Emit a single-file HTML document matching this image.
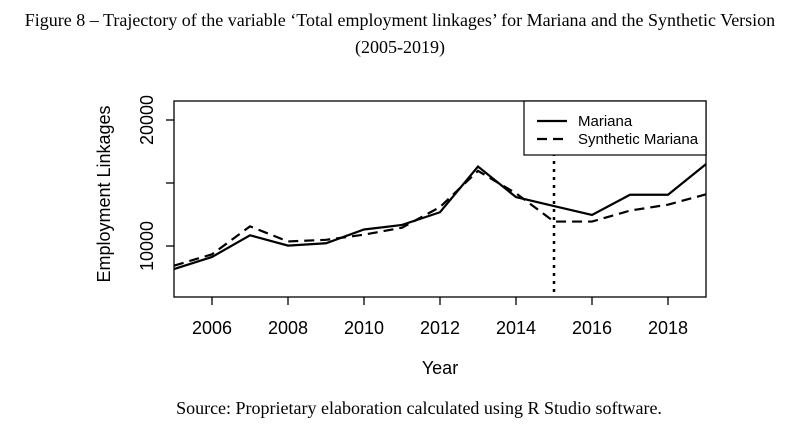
<!DOCTYPE html>
<html><head><meta charset="utf-8"><style>
body{margin:0;background:#fff;width:793px;height:427px;overflow:hidden}
svg{display:block}
.t{font-family:"Liberation Serif",serif;font-size:18px;fill:#000}
.s{font-family:"Liberation Sans",sans-serif;font-size:18px;fill:#000}
.lg{font-family:"Liberation Sans",sans-serif;font-size:15px;fill:#000}
</style></head><body>
<svg id="c" width="793" height="427">
<text class="t" x="400" y="26" text-anchor="middle">Figure 8 – Trajectory of the variable ‘Total employment linkages’ for Mariana and the Synthetic Version</text>
<text class="t" x="400" y="53" text-anchor="middle">(2005-2019)</text>
<text class="t" x="419" y="414" text-anchor="middle">Source: Proprietary elaboration calculated using R Studio software.</text>
<text class="s" x="440" y="374" text-anchor="middle">Year</text>
<text class="s" transform="translate(110,194) rotate(-90)" text-anchor="middle">Employment Linkages</text>
</svg>
<script>
const years=[2005,2006,2007,2008,2009,2010,2011,2012,2013,2014,2015,2016,2017,2018,2019];
const mariana=[8170,9130,10850,10030,10220,11310,11670,12680,16310,13880,13170,12460,14070,14070,16500];
const synthetic=[8440,9340,11560,10360,10490,10900,11450,13090,15960,14180,11940,11940,12810,13280,14100];
const xTicks=[2006,2008,2010,2012,2014,2016,2018];
const yTicks=[10000,15000,20000];
const yTickLabels=['10000','','20000'];
const treatYear=2015;
const L=174,R=706,T=101,B=297;
const X=v=>L+(v-2005)/(2019-2005)*(R-L);
const Y=v=>120+(20000-v)*0.0126;
const svg=document.getElementById('c');const NS='http://www.w3.org/2000/svg';
function mk(tag,a,p){const e=document.createElementNS(NS,tag);for(const k in a)e.setAttribute(k,a[k]);(p||svg).appendChild(e);return e;}
const box=mk('rect',{x:L,y:T,width:R-L,height:B-T,fill:'none',stroke:'#000','stroke-width':1.3});


xTicks.forEach(t=>{
 const l=mk('line',{x1:X(t),x2:X(t),y1:B,y2:B+8,stroke:'#000','stroke-width':1.3});
 
 
 const tx=mk('text',{x:X(t),y:B+37,'text-anchor':'middle',class:'s'});tx.textContent=t;
 
 
});
yTicks.forEach((t,i)=>{
 const l=mk('line',{x1:L-8,x2:L,y1:Y(t),y2:Y(t),stroke:'#000','stroke-width':1.3});
 
 
 const tx=mk('text',{transform:`translate(${L-21},${Y(t)}) rotate(-90)`,'text-anchor':'middle',class:'s'});tx.textContent=yTickLabels[i];
 
 
});
const vl=mk('line',{x1:X(treatYear),x2:X(treatYear),y1:T+52,y2:B,stroke:'#000','stroke-width':2.5,'stroke-dasharray':'3 5'});


const pts=a=>a.map((v,i)=>X(years[i])+','+Y(v)).join(' ');
const s1=mk('polyline',{points:pts(mariana),fill:'none',stroke:'#000','stroke-width':2.2});


const s2=mk('polyline',{points:pts(synthetic),fill:'none',stroke:'#000','stroke-width':2.2,'stroke-dasharray':'10 6'});


const g=mk('g',{});


mk('rect',{x:524,y:101,width:182,height:54,fill:'#fff',stroke:'#000','stroke-width':1.2},g);
mk('line',{x1:537,x2:567,y1:121,y2:121,stroke:'#000','stroke-width':2.2},g);
mk('line',{x1:537,x2:567,y1:139,y2:139,stroke:'#000','stroke-width':2.2,'stroke-dasharray':'10 6'},g);
const a=mk('text',{x:578,y:126,class:'lg'},g);a.textContent='Mariana';
const b=mk('text',{x:578,y:144,class:'lg'},g);b.textContent='Synthetic Mariana';
</script>
</body></html>
